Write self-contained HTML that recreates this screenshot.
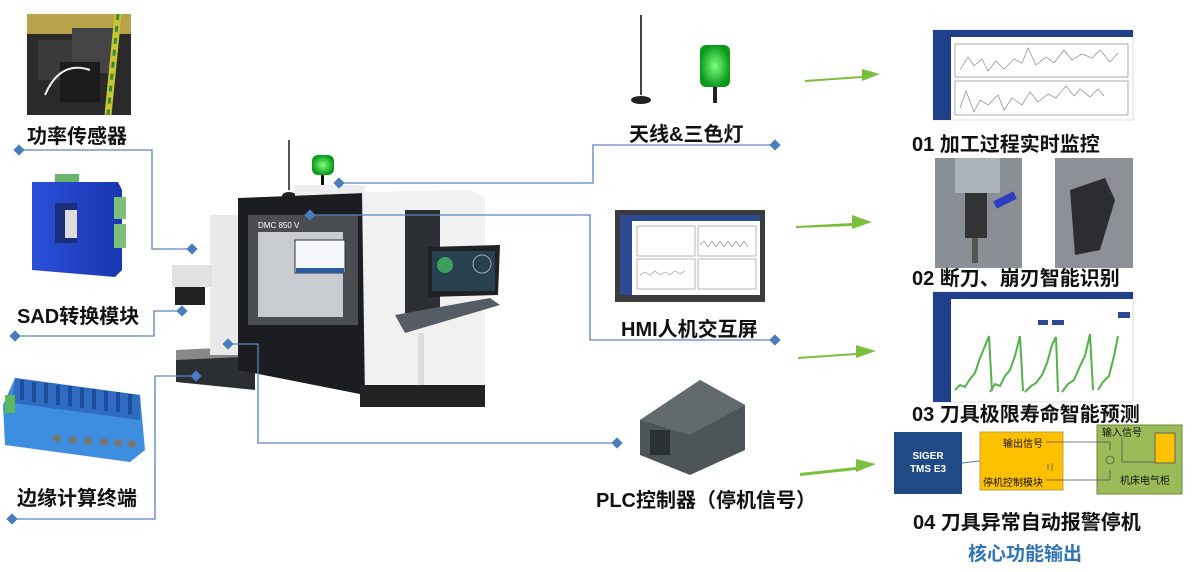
<!DOCTYPE html>
<html><head><meta charset="utf-8"><style>
body{margin:0;background:#fff;width:1194px;height:572px;overflow:hidden;position:relative;font-family:"Liberation Sans","Noto Sans CJK SC",sans-serif}
.t{position:absolute;font-weight:bold;color:#111;white-space:nowrap;font-size:20px}
</style></head><body>
<svg width="1194" height="572" style="position:absolute;left:0;top:0">
<defs>
<linearGradient id="bl" x1="0" x2="1"><stop offset="0" stop-color="#2a4fd8"/><stop offset="1" stop-color="#1a36b0"/></linearGradient>
<radialGradient id="gl"><stop offset="0" stop-color="#7dff7d"/><stop offset="1" stop-color="#0a9a1a"/></radialGradient>
</defs>
<!-- power sensor photo -->
<rect x="27" y="14" width="104" height="101" fill="#2a2a2a"/>
<rect x="27" y="14" width="104" height="20" fill="#b8a24a"/>
<rect x="38" y="40" width="40" height="40" fill="#3a3a3a"/><rect x="72" y="28" width="42" height="45" fill="#444"/>
<rect x="60" y="62" width="40" height="40" fill="#1c1c1c"/>
<path d="M118 14 L108 115" stroke="#c9c431" stroke-width="7"/><path d="M118 14 L108 115" stroke="#3a8a3a" stroke-width="3" stroke-dasharray="6 6"/>
<path d="M45 95 Q60 60 90 70" stroke="#eee" stroke-width="2" fill="none"/>
<!-- SAD module -->
<rect x="55" y="174" width="24" height="8" fill="#6ab36a"/>
<polygon points="32,182 118,182 122,190 122,270 115,277 32,270" fill="url(#bl)"/>
<rect x="114" y="197" width="12" height="22" fill="#7cc07c"/><rect x="114" y="224" width="12" height="24" fill="#7cc07c"/>
<rect x="55" y="203" width="22" height="40" fill="#1a2f7a"/><rect x="65" y="210" width="12" height="28" fill="#ddd"/>
<!-- edge device -->
<polygon points="15,378 140,395 145,450 130,462 5,445 3,405" fill="#3e8ee0"/>
<polygon points="15,378 140,395 140,420 12,403" fill="#2f6bc0"/>
<g fill="#1d4d9a"><rect x="20" y="380" width="4" height="20"/><rect x="32" y="382" width="4" height="20"/><rect x="44" y="383" width="4" height="20"/><rect x="56" y="385" width="4" height="20"/><rect x="68" y="386" width="4" height="20"/><rect x="80" y="388" width="4" height="20"/><rect x="92" y="389" width="4" height="20"/><rect x="104" y="391" width="4" height="20"/><rect x="116" y="392" width="4" height="20"/><rect x="128" y="394" width="4" height="20"/></g>
<rect x="5" y="395" width="10" height="18" fill="#5cb85c"/>
<g fill="#777"><circle cx="57" cy="438" r="4"/><circle cx="73" cy="440" r="4"/><circle cx="88" cy="441" r="4"/><circle cx="104" cy="442" r="4"/><circle cx="118" cy="443" r="4"/><circle cx="132" cy="444" r="4"/></g>
<!-- machine -->
<rect x="288" y="140" width="2" height="50" fill="#555"/><ellipse cx="289" cy="196" rx="7" ry="4" fill="#222"/>
<rect x="312" y="155" width="22" height="20" rx="6" fill="url(#gl)"/><rect x="321" y="175" width="3" height="12" fill="#111"/>
<rect x="295" y="185" width="70" height="12" fill="#eee"/>
<polygon points="176,354 255,350 255,390 176,382" fill="#2b2f34"/>
<polygon points="176,350 255,346 262,356 176,360" fill="#888"/>
<rect x="210" y="215" width="32" height="140" fill="#e9e9ea"/>
<rect x="172" y="265" width="40" height="22" fill="#e2e2e2"/><rect x="175" y="287" width="30" height="18" fill="#222"/>
<polygon points="238,198 365,193 365,395 238,370" fill="#1b1d20"/>
<rect x="248" y="215" width="110" height="110" fill="#4a4d51"/>
<rect x="258" y="232" width="85" height="85" fill="#c8ccd0"/>
<rect x="295" y="240" width="50" height="33" fill="#f4f6fa" stroke="#333"/><rect x="296" y="268" width="48" height="5" fill="#2c5aa0"/>
<text x="258" y="228" font-size="8" fill="#fff" font-family="Liberation Sans">DMC 850 V</text>
<polygon points="362,192 470,190 485,198 485,385 365,400" fill="#f1f1f2"/>
<rect x="405" y="210" width="35" height="110" fill="#2b2e32"/>
<polygon points="428,247 500,245 498,295 428,297" fill="#1e2126"/><rect x="432" y="251" width="63" height="40" fill="#28414f"/>
<circle cx="445" cy="265" r="8" fill="#3aa05a"/><circle cx="482" cy="264" r="9" fill="none" stroke="#aaa"/>
<polygon points="395,315 490,298 500,305 405,333" fill="#555c63"/>
<rect x="418" y="333" width="6" height="65" fill="#ddd"/>
<rect x="360" y="385" width="125" height="22" fill="#222"/>
<!-- antenna/lamp top -->
<rect x="640" y="15" width="2" height="80" fill="#444"/><ellipse cx="641" cy="100" rx="10" ry="4" fill="#222"/>
<rect x="700" y="45" width="30" height="42" rx="6" fill="url(#gl)"/><rect x="713" y="87" width="4" height="16" fill="#222"/>
<!-- HMI -->
<rect x="615" y="210" width="150" height="92" fill="#3a3c3e"/>
<rect x="620" y="215" width="140" height="80" fill="#fff"/><rect x="620" y="215" width="140" height="6" fill="#2b4a92"/><rect x="620" y="221" width="12" height="74" fill="#2b4a92"/>
<g stroke="#999" fill="none" stroke-width=".7"><rect x="637" y="226" width="58" height="30"/><rect x="698" y="226" width="58" height="30"/><rect x="637" y="259" width="58" height="30"/><rect x="698" y="259" width="58" height="30"/>
<path d="M700 245 l4 -4 4 6 4-6 4 6 4-6 4 6 4-6 4 6 4-6 4 6 4-6 4 6"/><path d="M640 275 l5 -3 5 3 5-4 5 4 5-3 5 3 5-4 5 3 5-3"/></g>
<!-- PLC -->
<polygon points="640,420 700,380 745,405 745,450 690,475 640,455" fill="#4e5558"/>
<polygon points="640,420 700,380 745,405 690,435" fill="#626a6d"/>
<rect x="650" y="430" width="20" height="25" fill="#2b3033"/>
<!-- screenshot 1 -->
<rect x="933" y="30" width="200" height="90" fill="#fff" stroke="#ddd"/>
<rect x="933" y="30" width="200" height="7" fill="#21408a"/><rect x="933" y="37" width="18" height="83" fill="#21408a"/>
<g stroke="#888" fill="none" stroke-width=".7"><rect x="955" y="44" width="173" height="33"/><rect x="955" y="81" width="173" height="34"/>
<path d="M960 70 l8-13 6 9 8-7 6 12 8-10 8 8 10-10 8 4 6-15 8 17 10-8 8 6 10-13 8 10 10-6 10 4 8-8 10 12 8-9"/>
<path d="M960 108 l6-17 8 21 6-12 8 5 10-10 6 15 8-12 10 7 8-13 8 10 10-8 8 4 10-12 8 10 6-7 10 8 8-8 6 7"/></g>
<!-- photos 02 -->
<rect x="935" y="158" width="87" height="110" fill="#8a8f95"/>
<rect x="955" y="158" width="45" height="35" fill="#aab2ba"/><rect x="965" y="193" width="22" height="45" fill="#333"/>
<rect x="972" y="238" width="6" height="25" fill="#555"/><path d="M995 205 l20 -10" stroke="#2e3cc0" stroke-width="8"/>
<rect x="1055" y="158" width="78" height="110" fill="#8d9096"/>
<polygon points="1070,190 1105,178 1115,200 1100,250 1075,255" fill="#2c2d30"/>
<!-- screenshot 3 -->
<rect x="933" y="292" width="200" height="110" fill="#fff" stroke="#ddd"/>
<rect x="933" y="292" width="200" height="7" fill="#21408a"/><rect x="933" y="299" width="18" height="103" fill="#21408a"/>
<rect x="1118" y="312" width="12" height="6" fill="#2b4a92"/><rect x="1038" y="320" width="10" height="5" fill="#2b4a92"/><rect x="1052" y="320" width="12" height="5" fill="#2b4a92"/>
<path d="M955 390 l5-5 5 2 5-8 5-6 5-15 5-12 4-10 3 55 M990 392 l5-8 5 2 5-10 5-6 5-14 5-20 3 55 M1025 392 l6-6 5 -3 6-8 5-12 5-18 4-8 2 55 M1062 392 l6-8 6-4 6-14 5-10 5-22 3 56 M1098 390 l5-8 6-6 5-20 4-20" stroke="#53b247" stroke-width="2" fill="none"/>
<!-- bottom 04 -->
<rect x="894" y="432" width="68" height="62" fill="#1f4a86"/>
<line x1="962" y1="463" x2="980" y2="461" stroke="#5b7aa8"/>
<rect x="980" y="432" width="83" height="58" fill="#ffc000" stroke="#bfa040"/>
<rect x="1097" y="425" width="85" height="69" fill="#9bbb59" stroke="#6e8a3a"/>
<rect x="1155" y="433" width="20" height="30" fill="#ffc000" stroke="#666"/>
<g stroke="#555" fill="none" stroke-width=".8"><path d="M1046 442 H1110 V450 M1046 480 H1110 V470 M1122 437 V462 H1155"/><circle cx="1110" cy="460" r="4"/><path d="M1048 464 v6 M1052 463 v8"/></g>
<!-- connectors -->
<g stroke="#5b84c0" stroke-width="1.3" fill="none">
<path d="M19 150 H152 V249 H192"/><path d="M15 336 H154 V311 H182"/><path d="M12 519 H155 V376 H196"/>
<path d="M228 344 H258 V443 H617"/><path d="M339 183 H593 V145 H775"/><path d="M310 215 H590 V340 H775"/>
</g>
<g fill="#4a7dbe">
<rect x="-4" y="-4" width="8" height="8" transform="translate(19 150) rotate(45)"/>
<rect x="-4" y="-4" width="8" height="8" transform="translate(192 249) rotate(45)"/>
<rect x="-4" y="-4" width="8" height="8" transform="translate(15 336) rotate(45)"/>
<rect x="-4" y="-4" width="8" height="8" transform="translate(182 311) rotate(45)"/>
<rect x="-4" y="-4" width="8" height="8" transform="translate(12 519) rotate(45)"/>
<rect x="-4" y="-4" width="8" height="8" transform="translate(196 376) rotate(45)"/>
<rect x="-4" y="-4" width="8" height="8" transform="translate(228 344) rotate(45)"/>
<rect x="-4" y="-4" width="8" height="8" transform="translate(617 443) rotate(45)"/>
<rect x="-4" y="-4" width="8" height="8" transform="translate(339 183) rotate(45)"/>
<rect x="-4" y="-4" width="8" height="8" transform="translate(775 145) rotate(45)"/>
<rect x="-4" y="-4" width="8" height="8" transform="translate(310 215) rotate(45)"/>
<rect x="-4" y="-4" width="8" height="8" transform="translate(775 340) rotate(45)"/>
</g>
<!-- green arrows -->
<g fill="#7cbf3c" stroke="none">
<polygon points="805,80 862,76 862,69 880,74 862,81 862,78 805,82"/>
<polygon points="796,226 852,223 852,215 872,222 852,229 852,226 796,228"/>
<polygon points="798,357 856,353 856,345 876,351 856,358 856,355 798,359"/>
<polygon points="800,473 856,467 856,459 876,464 856,472 856,470 800,476"/>
</g>
</svg>
<div class="t" style="left:27px;top:120px">功率传感器</div>
<div class="t" style="left:17px;top:300px">SAD转换模块</div>
<div class="t" style="left:17px;top:482px">边缘计算终端</div>
<div class="t" style="left:629px;top:118px">天线&amp;三色灯</div>
<div class="t" style="left:621px;top:313px">HMI人机交互屏</div>
<div class="t" style="left:596px;top:484px">PLC控制器（停机信号）</div>
<div class="t" style="left:912px;top:128px">01 加工过程实时监控</div>
<div class="t" style="left:912px;top:262px">02 断刀、崩刃智能识别</div>
<div class="t" style="left:912px;top:398px">03 刀具极限寿命智能预测</div>
<div class="t" style="left:913px;top:506px">04 刀具异常自动报警停机</div>
<div class="t" style="left:968px;top:539px;color:#2e75b6;font-size:19px">核心功能输出</div>
<div class="t" style="left:894px;top:450px;width:68px;text-align:center;color:#fff;font-size:10px;line-height:13px">SIGER<br>TMS E3</div>
<div class="t" style="left:1003px;top:435px;font-size:10px;font-weight:normal">输出信号</div>
<div class="t" style="left:983px;top:474px;font-size:10px;font-weight:normal">停机控制模块</div>
<div class="t" style="left:1102px;top:424px;font-size:10px;font-weight:normal">输入信号</div>
<div class="t" style="left:1120px;top:472px;font-size:10px;font-weight:normal">机床电气柜</div>
</body></html>
